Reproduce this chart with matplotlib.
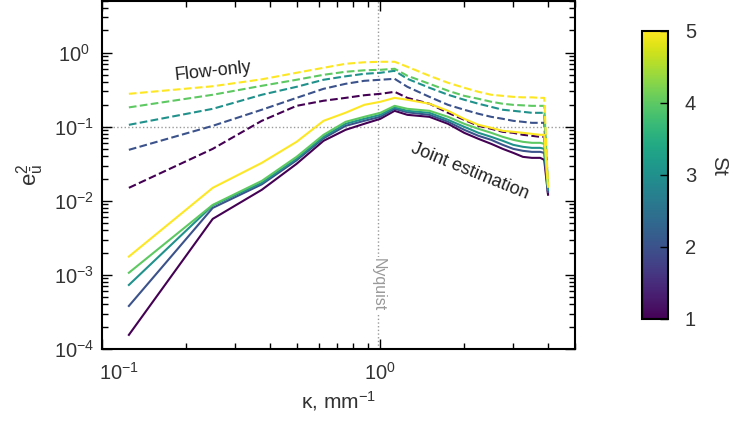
import matplotlib
matplotlib.use('Agg')
import matplotlib.pyplot as plt
from matplotlib import cm, colors
from matplotlib.transforms import ScaledTranslation

plt.rcParams['font.family'] = 'Liberation Sans'
plt.rcParams['mathtext.fontset'] = 'custom'
plt.rcParams['mathtext.rm'] = 'Liberation Sans'
plt.rcParams['mathtext.it'] = 'Liberation Sans:italic'
plt.rcParams['mathtext.bf'] = 'Liberation Sans:bold'

TXT = '#333333'

# wavenumber (mm^-1)
kappa = [0.125, 0.25, 0.375, 0.5, 0.625, 0.75, 0.875, 1.0, 1.125, 1.25, 1.5,
         1.75, 2.0, 2.25, 2.5, 2.75, 3.0, 3.25, 3.5, 3.75, 3.875, 4.0]

# joint estimation error, one list per Stokes number
joint_st1 = [0.000155, 0.00571, 0.0141, 0.0316, 0.0647, 0.0911, 0.1098, 0.1283, 0.1645, 0.1452, 0.1365,
             0.1098, 0.0830, 0.0688, 0.0589, 0.0504, 0.0445, 0.0393, 0.0381, 0.0381, 0.0358, 0.0121]
joint_st2 = [0.000381, 0.00804, 0.0167, 0.0353, 0.0699, 0.1031, 0.1205, 0.1365, 0.175, 0.157, 0.1452,
             0.1168, 0.0911, 0.0756, 0.0667, 0.0571, 0.0504, 0.0474, 0.0459, 0.0459, 0.0445, 0.0132]
joint_st3 = [0.000732, 0.00869, 0.0175, 0.0369, 0.0732, 0.1098, 0.1283, 0.1452, 0.183, 0.1645, 0.1546,
             0.1243, 0.100, 0.0830, 0.0732, 0.0647, 0.0571, 0.0537, 0.0520, 0.0520, 0.0504, 0.0141]
joint_st4 = [0.00107, 0.00883, 0.0186, 0.0393, 0.0780, 0.1168, 0.1365, 0.1546, 0.192, 0.175, 0.1645,
             0.1365, 0.1098, 0.0940, 0.0830, 0.0732, 0.0667, 0.0627, 0.0608, 0.0608, 0.0589, 0.01645]
joint_st5 = [0.00177, 0.0150, 0.0326, 0.0627, 0.1205, 0.155, 0.198, 0.218, 0.246, 0.232, 0.205,
             0.1645, 0.128, 0.1064, 0.0969, 0.0883, 0.0856, 0.0830, 0.0804, 0.0780, 0.0780, 0.0155]

# flow-only error
flow_st1 = [0.0150, 0.0504, 0.1205, 0.192, 0.225, 0.246, 0.267, 0.279, 0.297, 0.246, 0.205,
            0.1546, 0.1243, 0.1031, 0.0940, 0.0856, 0.0830, 0.0780, 0.0756, 0.0732, 0.0732, 0.0121]
flow_st2 = [0.0489, 0.1031, 0.170, 0.246, 0.326, 0.381, 0.418, 0.432, 0.445, 0.347, 0.254,
            0.198, 0.170, 0.150, 0.1365, 0.1283, 0.1205, 0.1168, 0.1132, 0.1132, 0.1132, 0.0132]
flow_st3 = [0.1064, 0.175, 0.271, 0.347, 0.432, 0.481, 0.520, 0.537, 0.571, 0.445, 0.337,
            0.271, 0.232, 0.205, 0.186, 0.170, 0.1645, 0.1594, 0.1546, 0.1546, 0.1546, 0.0141]
flow_st4 = [0.183, 0.271, 0.358, 0.432, 0.504, 0.554, 0.580, 0.589, 0.608, 0.489, 0.381,
            0.307, 0.262, 0.239, 0.218, 0.205, 0.198, 0.195, 0.192, 0.192, 0.192, 0.0155]
flow_st5 = [0.279, 0.353, 0.438, 0.537, 0.627, 0.710, 0.744, 0.756, 0.756, 0.647, 0.489,
            0.393, 0.337, 0.297, 0.271, 0.262, 0.254, 0.250, 0.250, 0.246, 0.246, 0.0155]

st = [1, 2, 3, 4, 5]
nyquist = 0.98

joint_curves = [joint_st1, joint_st2, joint_st3, joint_st4, joint_st5]
flow_curves = [flow_st1, flow_st2, flow_st3, flow_st4, flow_st5]

fig = plt.figure(figsize=(7.33, 4.23), dpi=100)
ax = fig.add_axes([0.139, 0.175, 0.6455, 0.8226])

cmap = plt.get_cmap('viridis')
norm = colors.Normalize(vmin=1, vmax=5)

for s, flow, joint in zip(st, flow_curves, joint_curves):
    c = cmap(norm(s))
    ax.plot(kappa, flow, '--', color=c, lw=1.5)
    ax.plot(kappa, joint, '-', color=c, lw=1.5)

ax.set_xscale('log')
ax.set_yscale('log')
ax.set_xlim(0.1, 5)
ax.set_ylim(1e-4, 5)

ax.axvline(nyquist, color='#9a9a9a', ls=':', lw=1, zorder=0)
ax.axhline(0.1, color='#9a9a9a', ls=':', lw=1, zorder=0)
ax.text(nyquist, 7.3e-4, 'Nyquist', rotation=-90, ha='center', va='center',
        color='#999999', fontsize=11.5,
        bbox=dict(facecolor='white', edgecolor='none', pad=1))

ax.text(0.25, 0.554, 'Flow-only', rotation=6, ha='center', va='center',
        color='#222222', fontsize=13)
ax.text(2.1, 0.0247, 'Joint estimation', rotation=-22, ha='center', va='center',
        color='#222222', fontsize=13)

ax.set_xticks([0.1, 1])
ax.set_yticks([1e-4, 1e-3, 1e-2, 1e-1, 1e0])
ax.tick_params(which='both', direction='in', top=True, right=True, width=1,
               labelsize=14.5, labelcolor=TXT)
ax.tick_params(which='major', length=7)
ax.tick_params(which='minor', length=4)
ax.tick_params(axis='y', pad=20)
ax.tick_params(axis='x', pad=9)
plt.setp(ax.get_yticklabels(), ha='center')
first = ax.xaxis.get_major_ticks()[0].label1
first.set_horizontalalignment('left')
first.set_transform(first.get_transform() + ScaledTranslation(-3 / 100, 0, fig.dpi_scale_trans))
for sp in ax.spines.values():
    sp.set_linewidth(1.5)

ax.set_xlabel('κ, mm$^{-1}$', fontsize=15, color=TXT, labelpad=4)
ax.set_ylabel(r'$\mathdefault{e_{\bar{u}}^{2}}$', fontsize=16, color=TXT, labelpad=6)

cax = fig.add_axes([0.876, 0.2459, 0.0355, 0.681])
sm = cm.ScalarMappable(norm=norm, cmap=cmap)
cb = fig.colorbar(sm, cax=cax, ticks=st)
cb.outline.set_linewidth(1.5)
cax.tick_params(direction='in', length=6, width=1, pad=12, labelsize=14.5, labelcolor=TXT)
cb.set_label('St', rotation=-90, fontsize=15, color=TXT, va='center')
cax.yaxis.set_label_coords(2.92, 0.53)

fig.savefig('out.png', dpi=100)
